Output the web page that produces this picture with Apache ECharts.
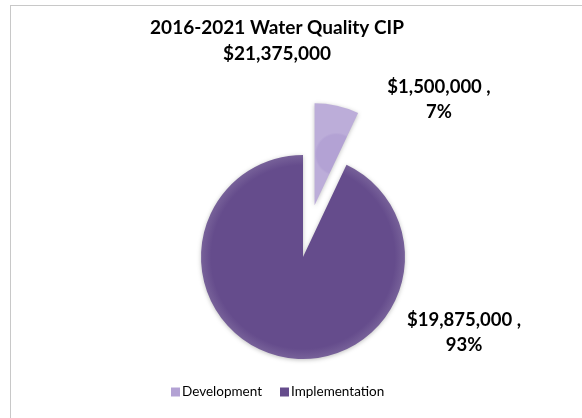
<!DOCTYPE html>
<html>
<head>
<meta charset="utf-8">
<script src="https://cdn.jsdelivr.net/npm/echarts@6/dist/echarts.min.js"></script>
<style>
html,body{margin:0;padding:0;background:#fff;}
#frame{position:absolute;left:10px;top:5px;width:572px;height:413px;border-left:1px solid #c8c8c8;border-top:1px solid #c8c8c8;}
#chart{position:absolute;left:0;top:0;width:582px;height:418px;}
</style>
</head>
<body>
<div id="frame"></div>
<div id="chart"></div>
<script>
const titleLines = ['2016-2021 Water Quality CIP', '$21,375,000'];
const categories = ['Development', 'Implementation'];
const values = [1500000, 19875000];
const percents = ['7%', '93%'];
const colors = ['#b3a2d4', '#654c8c'];
const exploded = [true, false];
const labelPos = [[439, 100], [464, 333]];

const chart = echarts.init(document.getElementById('chart'), null, {renderer: 'canvas'});
const fmt = v => '$' + v.toLocaleString('en-US');

const CENTER = [303, 257];
const RADIUS = 102;
const EXPLODE = 53;
const total = values.reduce((a, b) => a + b, 0);

function fillFor(c) {
  return new echarts.graphic.RadialGradient(0.5, 0.5, 0.5, [
    {offset: 0, color: c},
    {offset: 0.9, color: c},
    {offset: 1, color: echarts.color.lift(c, 0.12)}
  ]);
}

function makeSeries(showExploded) {
  let center = CENTER.slice();
  if (showExploded) {
    let acc = 0;
    values.forEach((v, i) => {
      if (exploded[i]) {
        const mid = (acc + v / 2) / total * 2 * Math.PI;
        center = [CENTER[0] + EXPLODE * Math.sin(mid), CENTER[1] - EXPLODE * Math.cos(mid)];
      }
      acc += v;
    });
  }
  return {
    type: 'pie',
    center: center,
    radius: RADIUS,
    startAngle: 90,
    clockwise: true,
    silent: true,
    label: {
      show: true,
      position: 'outside',
      fontFamily: 'Lato',
      fontWeight: 'bold',
      fontSize: 18.5,
      lineHeight: 25,
      color: '#000',
      align: 'center',
      formatter: p => fmt(p.value) + ' ,\n' + percents[p.dataIndex]
    },
    labelLine: {show: false},
    labelLayout: p => ({x: labelPos[p.dataIndex][0], y: labelPos[p.dataIndex][1], align: 'center', verticalAlign: 'middle'}),
    itemStyle: {shadowBlur: 4, shadowColor: 'rgba(0,0,0,0.25)', shadowOffsetY: 1},
    emphasis: {disabled: true},
    data: categories.map((c, i) => {
      const visible = exploded[i] === showExploded;
      return {
        name: c,
        value: values[i],
        label: {show: visible},
        itemStyle: visible ? {color: fillFor(colors[i])} : {color: 'rgba(0,0,0,0)', shadowBlur: 0, shadowColor: 'rgba(0,0,0,0)'}
      };
    })
  };
}

const option = {
  animation: false,
  title: {
    text: titleLines.join('\n'),
    left: 272,
    textAlign: 'center',
    top: 10,
    textStyle: {fontFamily: 'Lato', fontWeight: 'bold', fontSize: 19, lineHeight: 26, color: '#000'}
  },
  legend: {
    bottom: 14,
    left: 166,
    itemWidth: 9,
    itemHeight: 9,
    itemGap: 18,
    icon: 'rect',
    textStyle: {fontFamily: 'Lato', fontSize: 13.5, color: '#000', padding: [0,0,0,-3]},
    data: categories.map((c, i) => ({name: c, itemStyle: {color: colors[i]}}))
  },
  series: [makeSeries(false), makeSeries(true)]
};
chart.setOption(option);
</script>
</body>
</html>
